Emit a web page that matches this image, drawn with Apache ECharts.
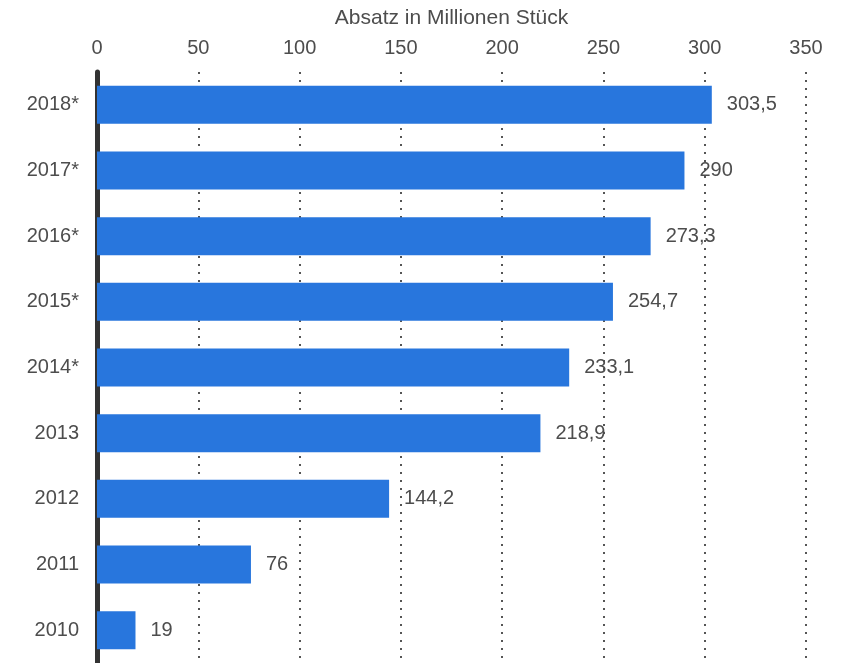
<!DOCTYPE html>
<html>
<head>
<meta charset="utf-8">
<script src="https://cdn.jsdelivr.net/npm/echarts@6/dist/echarts.min.js"></script>
<style>html,body{margin:0;padding:0;background:#fff;}#c{width:849px;height:663px;}</style>
</head>
<body>
<div id="c"></div>
<script>
const categories = ['2010', '2011', '2012', '2013', '2014*', '2015*', '2016*', '2017*', '2018*'];
const values = [19, 76, 144.2, 218.9, 233.1, 254.7, 273.3, 290, 303.5];
const xTicks = [0, 50, 100, 150, 200, 250, 300, 350];
const axisTitle = 'Absatz in Millionen Stück';

const chart = echarts.init(document.getElementById('c'));
chart.setOption({
  animation: false,
  backgroundColor: '#ffffff',
  textStyle: { fontFamily: 'Liberation Sans, Arial, sans-serif' },
  grid: { left: 97, right: 43, top: 72, bottom: 0, containLabel: false },
  xAxis: {
    type: 'value',
    position: 'top',
    min: xTicks[0],
    max: xTicks[xTicks.length - 1],
    interval: 50,
    name: axisTitle,
    nameLocation: 'middle',
    nameGap: 43,
    nameTextStyle: { fontSize: 21, color: '#4d4d4d' },
    axisLine: { show: false },
    axisTick: { show: false },
    axisLabel: { fontSize: 20, color: '#4d4d4d', margin: 14 },
    splitLine: { show: true, lineStyle: { type: [2, 6], color: '#555', width: 2 } }
  },
  yAxis: {
    type: 'category',
    data: categories,
    axisLine: { show: true, lineStyle: { color: '#333', width: 5 } },
    axisTick: { show: false },
    axisLabel: { fontSize: 20, color: '#4d4d4d', margin: 18 },
    splitLine: { show: false }
  },
  series: [{
    type: 'bar',
    data: values,
    barWidth: 38,
    itemStyle: { color: '#2876DD' },
    label: {
      show: true,
      position: 'right',
      distance: 15,
      fontSize: 20,
      color: '#4d4d4d',
      formatter: p => String(p.value).replace('.', ',')
    }
  }]
});
</script>
</body>
</html>
